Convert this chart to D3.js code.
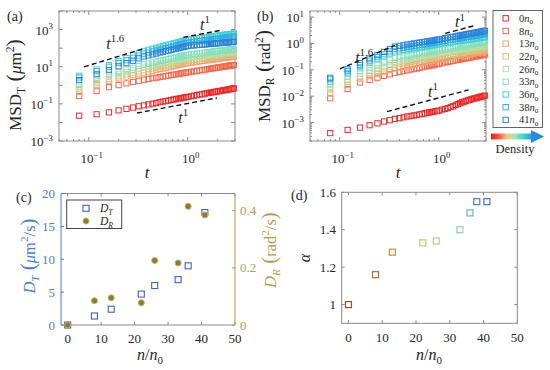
<!DOCTYPE html>
<html>
<head>
<meta charset="utf-8">
<script src="https://cdn.jsdelivr.net/npm/d3@7"></script>
<style>
  body { margin: 0; background: #fff; }
  svg { display: block; }
  text { font-family: 'Liberation Serif', 'DejaVu Serif', serif; fill: #262626; }
</style>
</head>
<body>
<script>
// lag times (s)
const times = [0.08, 0.12, 0.16, 0.20, 0.24, 0.28, 0.32, 0.36, 0.40, 0.44, 0.48, 0.52, 0.56, 0.60, 0.64, 0.68,
  0.72, 0.76, 0.80, 0.84, 0.88, 0.92, 0.96, 1.00, 1.08, 1.16, 1.24, 1.32, 1.40, 1.48, 1.56, 1.64,
  1.72, 1.80, 1.88, 1.96, 2.04, 2.12, 2.20, 2.28, 2.36, 2.44, 2.52, 2.60, 2.68, 2.76, 2.84, 2.92];

// translational MSD (um^2), one array per density
const msdT0 = [0.023, 0.0275, 0.0347, 0.0447, 0.0537, 0.0631, 0.0741, 0.0832,
  0.0933, 0.102, 0.112, 0.123, 0.132, 0.141, 0.151, 0.162, 0.170, 0.182, 0.191, 0.200, 0.209, 0.219, 0.229, 0.240,
  0.257, 0.275, 0.295, 0.316, 0.331, 0.355, 0.372, 0.389, 0.407, 0.427, 0.447, 0.457, 0.479, 0.490, 0.513, 0.537, 0.550, 0.562, 0.589, 0.603, 0.617, 0.646, 0.661, 0.676];
const msdT8 = [0.263, 0.501, 0.794, 1.02, 1.26, 1.51, 1.74, 2.00,
  2.19, 2.40, 2.57, 2.75, 2.95, 3.16, 3.31, 3.55, 3.72, 3.89, 4.07, 4.27, 4.47, 4.68, 4.79, 5.01,
  5.37, 5.62, 6.03, 6.31, 6.61, 6.92, 7.24, 7.59, 7.94, 8.13, 8.51, 8.91, 9.12, 9.33, 9.77, 10.0, 10.2, 10.5, 11.0, 11.2, 11.5, 11.7, 12.0, 12.3];
const msdT13 = [0.447, 1.00, 1.78, 2.34, 2.95, 3.55, 4.17, 4.79,
  5.37, 6.03, 6.76, 7.41, 7.94, 8.71, 9.33, 10.0, 10.7, 11.5, 12.3, 12.9, 13.5, 14.5, 15.1, 15.8,
  16.6, 17.8, 18.6, 19.5, 20.4, 21.4, 22.4, 22.9, 24.0, 24.5, 25.7, 26.3, 26.9, 27.5, 28.8, 29.5, 30.2, 30.9, 31.6, 32.4, 33.1, 33.9, 34.7, 35.5];
const msdT22 = [0.603, 1.29, 2.24, 3.02, 3.89, 4.68, 5.62, 6.61,
  7.41, 8.32, 9.12, 10.0, 11.0, 12.0, 12.9, 13.8, 14.8, 15.5, 16.6, 17.4, 18.2, 19.5, 20.4, 21.4,
  22.4, 23.4, 24.5, 25.7, 26.9, 28.2, 28.8, 30.2, 30.9, 32.4, 33.1, 33.9, 34.7, 35.5, 37.2, 38.0, 38.9, 39.8, 40.7, 41.2, 41.7, 42.7, 43.7, 44.7];
const msdT26 = [0.759, 1.62, 2.82, 3.89, 5.01, 6.31, 7.59, 8.91,
  10.0, 11.5, 12.6, 13.8, 15.1, 16.6, 17.8, 19.1, 20.4, 21.9, 22.9, 24.5, 25.7, 27.5, 28.8, 30.2,
  31.6, 33.1, 34.7, 36.3, 38.0, 39.8, 40.7, 42.7, 43.7, 45.7, 46.8, 47.9, 49.0, 50.1, 52.5, 53.7, 55.0, 56.2, 57.5, 58.0, 58.9, 60.3, 61.7, 63.1];
const msdT33 = [1.05, 2.19, 3.80, 5.37, 7.08, 8.91, 11.0, 13.2,
  14.8, 17.0, 18.6, 20.4, 22.4, 24.5, 26.3, 28.2, 30.2, 32.4, 33.9, 36.3, 38.0, 40.7, 42.7, 44.7,
  46.8, 49.0, 51.3, 53.7, 55.0, 57.5, 60.3, 61.7, 63.1, 66.1, 67.6, 69.2, 70.8, 72.4, 74.1, 75.9, 77.6, 79.4, 81.3, 83.2, 85.1, 87.1, 87.5, 89.1];
const msdT36 = [3.24, 7.08, 12.3, 20.0, 29.5, 40.7, 55.0, 70.8,
  81.3, 93.3, 105, 117, 129, 141, 155, 166, 182, 195, 209, 224, 234, 251, 269, 282,
  295, 316, 331, 347, 363, 380, 389, 407, 417, 437, 447, 457, 479, 490, 501, 513, 525, 537, 550, 562, 575, 589, 603, 617];
const msdT38 = [2.63, 5.75, 10.0, 15.8, 22.4, 30.2, 39.8, 50.1,
  57.5, 66.1, 74.1, 83.2, 91.2, 100, 110, 117, 129, 138, 148, 158, 166, 178, 191, 200,
  209, 219, 229, 240, 251, 263, 269, 282, 288, 302, 309, 316, 324, 331, 347, 355, 363, 372, 380, 385, 389, 398, 407, 417];
const msdT41 = [1.91, 3.89, 6.61, 10.5, 15.5, 20.9, 28.2, 35.5,
  40.7, 45.7, 51.3, 57.5, 63.1, 69.2, 74.1, 79.4, 87.1, 93.3, 97.7, 105, 112, 117, 126, 132,
  138, 141, 145, 151, 155, 158, 162, 166, 170, 174, 178, 182, 186, 188, 191, 195, 200, 201, 204, 209, 210, 214, 216, 219];

// rotational MSD (rad^2)
const msdR0 = [3.98e-4, 5.25e-4, 6.46e-4, 7.94e-4, 9.33e-4, 1.10e-3, 1.23e-3, 1.38e-3,
  1.48e-3, 1.58e-3, 1.70e-3, 1.78e-3, 1.86e-3, 1.95e-3, 2.04e-3, 2.14e-3, 2.24e-3, 2.34e-3, 2.40e-3, 2.51e-3, 2.57e-3, 2.69e-3, 2.75e-3, 2.82e-3,
  3.09e-3, 3.31e-3, 3.55e-3, 3.89e-3, 4.17e-3, 4.68e-3, 5.01e-3, 5.37e-3, 5.89e-3, 6.17e-3, 6.61e-3, 6.92e-3, 7.24e-3, 7.59e-3, 7.94e-3, 8.13e-3, 8.51e-3, 8.71e-3, 8.91e-3, 9.33e-3, 9.55e-3, 1.00e-2, 1.02e-2, 1.05e-2];
const msdR8 = [8.32e-3, 0.0186, 0.0331, 0.0417, 0.0501, 0.0589, 0.0676, 0.0759,
  0.0832, 0.0891, 0.0955, 0.102, 0.107, 0.112, 0.120, 0.126, 0.132, 0.138, 0.141, 0.148, 0.151, 0.158, 0.166, 0.170,
  0.178, 0.191, 0.200, 0.209, 0.219, 0.229, 0.240, 0.245, 0.257, 0.263, 0.275, 0.282, 0.288, 0.295, 0.309, 0.316, 0.324, 0.331, 0.339, 0.347, 0.355, 0.363, 0.372, 0.380];
const msdR13 = [0.0126, 0.0263, 0.0447, 0.0575, 0.0708, 0.0851, 0.0977, 0.112,
  0.123, 0.132, 0.141, 0.151, 0.158, 0.166, 0.178, 0.186, 0.195, 0.204, 0.209, 0.219, 0.224, 0.234, 0.245, 0.251,
  0.263, 0.275, 0.288, 0.302, 0.309, 0.324, 0.339, 0.347, 0.355, 0.363, 0.380, 0.389, 0.398, 0.407, 0.417, 0.427, 0.437, 0.447, 0.457, 0.468, 0.479, 0.490, 0.492, 0.501];
const msdR22 = [0.0178, 0.0347, 0.0562, 0.0741, 0.0912, 0.112, 0.132, 0.151,
  0.162, 0.174, 0.186, 0.200, 0.209, 0.219, 0.229, 0.240, 0.251, 0.257, 0.269, 0.282, 0.288, 0.295, 0.309, 0.316,
  0.331, 0.347, 0.363, 0.372, 0.389, 0.398, 0.417, 0.427, 0.437, 0.447, 0.468, 0.479, 0.490, 0.501, 0.513, 0.525, 0.528, 0.537, 0.550, 0.562, 0.575, 0.589, 0.592, 0.603];
const msdR26 = [0.0224, 0.0437, 0.0708, 0.0955, 0.117, 0.145, 0.174, 0.200,
  0.214, 0.229, 0.245, 0.263, 0.275, 0.288, 0.302, 0.316, 0.331, 0.339, 0.355, 0.372, 0.380, 0.389, 0.407, 0.417,
  0.437, 0.457, 0.479, 0.490, 0.513, 0.525, 0.550, 0.562, 0.575, 0.589, 0.617, 0.631, 0.646, 0.661, 0.676, 0.692, 0.695, 0.708, 0.724, 0.741, 0.759, 0.776, 0.780, 0.794];
const msdR33 = [0.0282, 0.0550, 0.0891, 0.123, 0.158, 0.195, 0.240, 0.282,
  0.302, 0.324, 0.339, 0.363, 0.380, 0.398, 0.417, 0.437, 0.447, 0.468, 0.479, 0.501, 0.513, 0.537, 0.550, 0.562,
  0.589, 0.617, 0.646, 0.676, 0.692, 0.724, 0.759, 0.776, 0.794, 0.813, 0.851, 0.871, 0.891, 0.912, 0.933, 0.955, 0.977, 1.00, 1.02, 1.05, 1.07, 1.10, 1.11, 1.12];
const msdR36 = [0.0355, 0.0741, 0.126, 0.186, 0.251, 0.324, 0.417, 0.501,
  0.537, 0.575, 0.603, 0.631, 0.661, 0.692, 0.724, 0.741, 0.776, 0.794, 0.832, 0.851, 0.871, 0.912, 0.933, 0.955,
  1.00, 1.05, 1.07, 1.12, 1.15, 1.20, 1.23, 1.26, 1.29, 1.32, 1.35, 1.38, 1.41, 1.45, 1.48, 1.51, 1.55, 1.58, 1.60, 1.62, 1.66, 1.70, 1.71, 1.74];
const msdR38 = [0.0437, 0.0891, 0.151, 0.224, 0.302, 0.389, 0.501, 0.603,
  0.646, 0.692, 0.724, 0.759, 0.794, 0.832, 0.871, 0.891, 0.933, 0.955, 1.00, 1.02, 1.05, 1.10, 1.12, 1.15,
  1.20, 1.26, 1.32, 1.38, 1.41, 1.48, 1.55, 1.58, 1.62, 1.66, 1.74, 1.78, 1.82, 1.86, 1.91, 1.95, 2.00, 2.04, 2.09, 2.14, 2.19, 2.24, 2.26, 2.29];
const msdR41 = [0.0501, 0.105, 0.178, 0.269, 0.363, 0.479, 0.617, 0.759,
  0.813, 0.851, 0.912, 0.955, 1.00, 1.05, 1.07, 1.12, 1.15, 1.20, 1.23, 1.26, 1.29, 1.35, 1.38, 1.41,
  1.48, 1.58, 1.66, 1.74, 1.78, 1.86, 1.95, 2.00, 2.09, 2.14, 2.19, 2.29, 2.34, 2.40, 2.45, 2.51, 2.57, 2.63, 2.69, 2.75, 2.82, 2.88, 2.95, 3.02];

const densityLabels = ["0", "8", "13", "22", "26", "33", "36", "38", "41"];

// (c) diffusion coefficients vs n/n0
const nRatio = [0, 8, 13, 22, 26, 33, 36, 41];
const diffT = [0, 1.37, 2.4, 4.7, 6.0, 6.9, 9.0, 17.1];
const diffR = [0, 0.085, 0.095, 0.078, 0.226, 0.217, 0.415, 0.385];

// (d) exponent alpha vs n/n0
const nAlpha = [0, 8, 13, 22, 26, 33, 36, 38, 41];
const alphaExp = [1.0, 1.16, 1.28, 1.33, 1.34, 1.40, 1.49, 1.55, 1.55];

// guide lines [t, value] pairs and their label anchor
const guideA = [
  { pts: [[0.0895, 9.8], [0.347, 89]], at: [0.15, 90], exp: "1.6" },
  { pts: [[0.90, 380], [2.2, 930]], at: [1.33, 940], exp: "1" },
  { pts: [[0.307, 0.032], [1.97, 0.208]], at: [0.80, 0.0093], exp: "1" }
];
const guideB = [
  { pts: [[0.1, 0.108], [0.36, 0.85]], at: [0.143, 0.188], exp: "1.6" },
  { pts: [[1.16, 2.4], [2.23, 4.6]], at: [1.46, 4.05], exp: "1" },
  { pts: [[0.30, 0.0026], [2.0, 0.0173]], at: [0.78, 0.0095], exp: "1" }
];

const seriesColors = ["#ea2a2a", "#f06a4e", "#f4a072", "#d8c27a", "#b6dfa4", "#84e0c2", "#46d0d4", "#34ade2", "#2c84d8"];
const alphaColors = ["#7d5a2c", "#c0683e", "#d0913f", "#cfc173", "#b5cf86", "#92cfa4", "#6cb4bf", "#4c7ad0", "#4a6fd6"];
const blueAx = "#4a7ccc", goldAx = "#b59b4c", frameCol = "#8a8a8a";

const svg = d3.select("body").append("svg").attr("width", 550).attr("height", 370);

function rich(g, x, y, parts, size, anchor, rotate) {
  const t = g.append("text").attr("x", x).attr("y", y).attr("font-size", size)
    .attr("text-anchor", anchor || "start");
  if (rotate) t.attr("transform", `rotate(${rotate},${x},${y})`);
  let shift = 0;
  parts.forEach(p => {
    const target = p.sup ? -size * 0.42 : p.sub ? size * 0.25 : 0;
    const ts = t.append("tspan").attr("dy", target - shift).text(p.t);
    shift = target;
    if (p.sup || p.sub) ts.attr("font-size", size * 0.68);
    if (p.it) ts.attr("font-style", "italic");
    if (p.fs) ts.attr("font-size", p.fs);
  });
  return t;
}
function line(g, x1, y1, x2, y2, col) {
  return g.append("line").attr("x1", x1).attr("y1", y1).attr("x2", x2).attr("y2", y2)
    .attr("stroke", col || frameCol).attr("stroke-width", 1);
}
const isPow10 = v => Math.abs(Math.log10(v) - Math.round(Math.log10(v))) < 1e-6;
const expLabel = k => [{ t: "10" }, { t: (k < 0 ? "\u2212" : "") + Math.abs(k), sup: true }];

function msdPanel(o) {
  const x = d3.scaleLog().domain([0.05, 3]).range([o.x0, o.x1]);
  const y = d3.scaleLog().domain(o.yDomain).range([o.y1, o.y0]);
  const g = svg.append("g");
  g.append("rect").attr("x", o.x0).attr("y", o.y0).attr("width", o.x1 - o.x0).attr("height", o.y1 - o.y0)
    .attr("fill", "none").attr("stroke", frameCol);
  x.ticks().forEach(v => {
    const len = isPow10(v) ? 4 : 2;
    line(g, x(v), o.y1, x(v), o.y1 - len);
    line(g, x(v), o.y0, x(v), o.y0 + len);
  });
  y.ticks().forEach(v => {
    const major = isPow10(v);
    if (!major && !o.yMinor) return;
    const len = major ? 4 : 2;
    line(g, o.x0, y(v), o.x0 + len, y(v));
    line(g, o.x1, y(v), o.x1 - len, y(v));
  });
  [-1, 0].forEach(k => rich(g, x(Math.pow(10, k)) + 3, o.y1 + 22, expLabel(k), 13, "middle"));
  o.yLabels.forEach(k => rich(g, o.x0 - 6, y(Math.pow(10, k)) + 5, expLabel(k), 13, "end"));

  o.series.forEach((vals, i) => {
    g.append("g").selectAll("rect").data(vals).join("rect")
      .attr("x", (v, j) => x(times[j]) - 2.6)
      .attr("y", v => y(v) - 2.6)
      .attr("width", 5.2).attr("height", 5.2)
      .attr("fill", "none").attr("stroke", seriesColors[i]).attr("stroke-width", 1);
  });
  o.guides.forEach(gd => {
    g.append("line")
      .attr("x1", x(gd.pts[0][0])).attr("y1", y(gd.pts[0][1]))
      .attr("x2", x(gd.pts[1][0])).attr("y2", y(gd.pts[1][1]))
      .attr("stroke", "#111").attr("stroke-width", 1.4).attr("stroke-dasharray", "5,3");
    rich(g, x(gd.at[0]), y(gd.at[1]), [{ t: "t", it: true }, { t: gd.exp, sup: true }], 16, "start");
  });
  rich(g, (o.x0 + o.x1) / 2, 178, [{ t: "t", it: true }], 17, "middle");
  rich(g, o.lx, o.ly, o.yTitle, 17, "middle", -90);
  rich(g, o.letterX, 21, [{ t: o.letter }], 14, "start");
}

msdPanel({
  x0: 59, x1: 235, y0: 11, y1: 141, yDomain: [1e-3, 1e4], yMinor: false,
  yLabels: [-3, -1, 1, 3],
  series: [msdT0, msdT8, msdT13, msdT22, msdT26, msdT33, msdT36, msdT38, msdT41],
  guides: guideA, letter: "(a)", letterX: 7, lx: 21, ly: 85,
  yTitle: [{ t: "MSD" }, { t: "T", sub: true }, { t: " (", fs: 22 }, { t: "\u03bc", it: true }, { t: "m" }, { t: "2", sup: true }, { t: ")", fs: 22 }]
});
msdPanel({
  x0: 310, x1: 486, y0: 11, y1: 141, yDomain: [2e-4, 17], yMinor: true,
  yLabels: [-3, -2, -1, 0, 1],
  series: [msdR0, msdR8, msdR13, msdR22, msdR26, msdR33, msdR36, msdR38, msdR41],
  guides: guideB, letter: "(b)", letterX: 257, lx: 270, ly: 76,
  yTitle: [{ t: "MSD" }, { t: "R", sub: true }, { t: " (", fs: 22 }, { t: "rad" }, { t: "2", sup: true }, { t: ")", fs: 22 }]
});

// legend + colour arrow
const lg = svg.append("g");
lg.append("rect").attr("x", 493).attr("y", 10.5).attr("width", 49.5).attr("height", 117)
  .attr("fill", "#fff").attr("stroke", "#666");
densityLabels.forEach((d, i) => {
  const yy = 18.3 + i * 12.7;
  lg.append("rect").attr("x", 503).attr("y", yy - 2.7).attr("width", 5.4).attr("height", 5.4)
    .attr("fill", "none").attr("stroke", seriesColors[i]);
  rich(lg, 519, yy + 3.5, [{ t: d }, { t: "n", it: true }, { t: "0", sub: true }], 10.5, "start");
});
const grad = svg.append("defs").append("linearGradient").attr("id", "dens");
[["0", "#ff1010"], ["0.2", "#ff6040"], ["0.38", "#f3c489"], ["0.55", "#a8e8a8"], ["0.75", "#40d8d0"], ["1", "#2a90e0"]]
  .forEach(s => grad.append("stop").attr("offset", s[0]).attr("stop-color", s[1]));
lg.append("rect").attr("x", 491).attr("y", 133.5).attr("width", 42).attr("height", 6).attr("fill", "url(#dens)");
lg.append("path").attr("d", "M531,130 L544,136.5 L531,143 Z").attr("fill", "#2a8ae0");
rich(lg, 515, 153, [{ t: "Density" }], 12.5, "middle");

// (c)
const gc = svg.append("g");
const xC = d3.scaleLinear().domain([-2, 50]).range([61, 235]);
const yCL = d3.scaleLinear().domain([0, 20]).range([325, 193.5]);
const yCR = d3.scaleLinear().domain([0, 0.46]).range([325, 193.5]);
line(gc, 61, 325, 235, 325);
line(gc, 61, 193.5, 235, 193.5);
line(gc, 61, 193.5, 61, 325, blueAx);
line(gc, 235, 193.5, 235, 325, goldAx);
[0, 10, 20, 30, 40, 50].forEach(v => {
  line(gc, xC(v), 325, xC(v), 322);
  line(gc, xC(v), 193.5, xC(v), 196.5);
  rich(gc, xC(v), 343, [{ t: String(v) }], 13, "middle");
});
[0, 5, 10, 15, 20].forEach(v => {
  line(gc, 61, yCL(v), 64, yCL(v), blueAx);
  rich(gc, 55, yCL(v) + 4.5, [{ t: String(v) }], 13, "end").style("fill", blueAx);
});
[0, 0.2, 0.4].forEach(v => {
  line(gc, 235, yCR(v), 232, yCR(v), goldAx);
  rich(gc, 240, yCR(v) + 4.5, [{ t: String(v) }], 13, "start").style("fill", goldAx);
});
gc.append("g").selectAll("rect").data(diffT).join("rect")
  .attr("x", (d, i) => xC(nRatio[i]) - 3).attr("y", d => yCL(d) - 3)
  .attr("width", 6).attr("height", 6).attr("fill", "none").attr("stroke", "#3f5fc8").attr("stroke-width", 1.1);
gc.append("g").selectAll("circle").data(diffR).join("circle")
  .attr("cx", (d, i) => xC(nRatio[i])).attr("cy", d => yCR(d)).attr("r", 3)
  .attr("fill", "#8a7d2a").attr("stroke", "#c3b165").attr("stroke-width", 1);
gc.append("rect").attr("x", 66.7).attr("y", 200).attr("width", 55).attr("height", 28.5)
  .attr("fill", "#fff").attr("stroke", "#444");
gc.append("rect").attr("x", 83).attr("y", 205.3).attr("width", 6).attr("height", 6)
  .attr("fill", "none").attr("stroke", "#3f5fc8").attr("stroke-width", 1.1);
rich(gc, 100, 212, [{ t: "D", it: true }, { t: "T", sub: true, it: true }], 11.5, "start");
gc.append("circle").attr("cx", 86).attr("cy", 221).attr("r", 3).attr("fill", "#8a7d2a").attr("stroke", "#c3b165");
rich(gc, 100, 225, [{ t: "D", it: true }, { t: "R", sub: true, it: true }], 11.5, "start");
rich(gc, 35, 256, [{ t: "D", it: true }, { t: "T", sub: true, it: true }, { t: " (", fs: 21 }, { t: "\u03bc", it: true }, { t: "m" }, { t: "2", sup: true }, { t: "/s" }, { t: ")", fs: 21 }], 16.5, "middle", -90)
  .style("fill", blueAx);
rich(gc, 276, 250, [{ t: "D", it: true }, { t: "R", sub: true, it: true }, { t: " (", fs: 21 }, { t: "rad" }, { t: "2", sup: true }, { t: "/s" }, { t: ")", fs: 21 }], 16.5, "middle", -90)
  .style("fill", goldAx);
rich(gc, 150, 360, [{ t: "n", it: true }, { t: "/" }, { t: "n", it: true }, { t: "0", sub: true }], 16, "middle");
rich(gc, 16, 202, [{ t: "(c)" }], 14, "start");

// (d)
const gd = svg.append("g");
const xD = d3.scaleLinear().domain([-2, 50]).range([341.7, 517.3]);
const yD = d3.scaleLinear().domain([0.9, 1.6]).range([323.3, 192.3]);
gd.append("rect").attr("x", 341.7).attr("y", 192.3).attr("width", 175.6).attr("height", 131)
  .attr("fill", "none").attr("stroke", frameCol);
[0, 10, 20, 30, 40, 50].forEach(v => {
  line(gd, xD(v), 323.3, xD(v), 320.3);
  line(gd, xD(v), 192.3, xD(v), 195.3);
  rich(gd, xD(v), 342, [{ t: String(v) }], 13, "middle");
});
[1, 1.2, 1.4, 1.6].forEach(v => {
  line(gd, 341.7, yD(v), 344.7, yD(v));
  line(gd, 517.3, yD(v), 514.3, yD(v));
  rich(gd, 336, yD(v) + 4.5, [{ t: String(v) }], 13, "end");
});
gd.append("g").selectAll("rect").data(alphaExp).join("rect")
  .attr("x", (d, i) => xD(nAlpha[i]) - 3).attr("y", d => yD(d) - 3)
  .attr("width", 6).attr("height", 6).attr("fill", "none")
  .attr("stroke", (d, i) => alphaColors[i]).attr("stroke-width", 1.2);
rich(gd, 310, 258, [{ t: "\u03b1", it: true }], 16, "middle", -90);
rich(gd, 429, 360, [{ t: "n", it: true }, { t: "/" }, { t: "n", it: true }, { t: "0", sub: true }], 16, "middle");
rich(gd, 291, 200, [{ t: "(d)" }], 14, "start");
</script>
</body>
</html>
